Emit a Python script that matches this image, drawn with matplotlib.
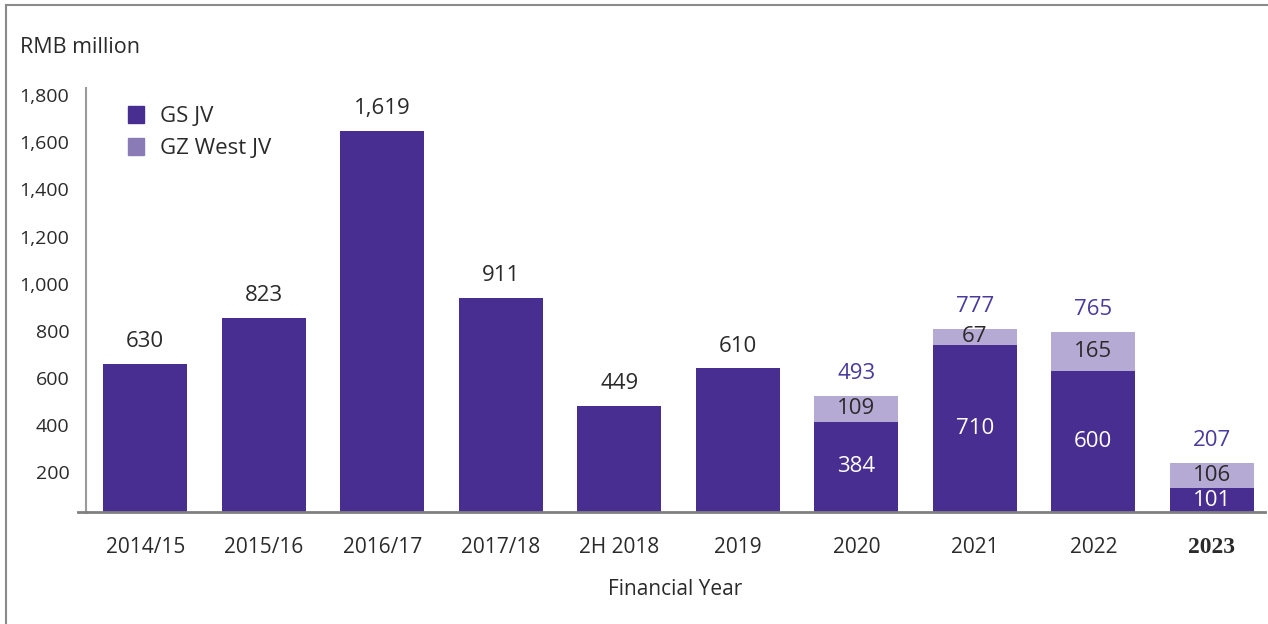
import numpy as np
import matplotlib
matplotlib.use("Agg")
import matplotlib.pyplot as plt
from matplotlib.lines import Line2D
from matplotlib.patches import Patch

years = ['2014/15', '2015/16', '2016/17', '2017/18', '2H 2018', '2019', '2020', '2021', '2022', '2023']
gs_jv = [630, 823, 1619, 911, 449, 610, 384, 710, 600, 101]
gz_west_jv = [0, 0, 0, 0, 0, 0, 109, 67, 165, 106]
totals = [630, 823, 1619, 911, 449, 610, 493, 777, 765, 207]
y_ticks = [200, 400, 600, 800, 1000, 1200, 1400, 1600, 1800]

DARK = '#482e91'
LIGHT = '#b5aad4'
LEGEND_LIGHT = '#8a7bb7'
TEXT = '#2a2a2a'

plt.rcParams['font.family'] = ['Open Sans', 'DejaVu Sans']

fig = plt.figure(figsize=(12.68, 6.24), dpi=100)
ax = fig.add_axes([0.0678, 0.1795, 0.930, 0.679])

x = np.arange(len(years))
w = 0.71
ax.bar(x, gs_jv, width=w, color=DARK, zorder=2)
ax.bar(x, gz_west_jv, width=w, bottom=gs_jv, color=LIGHT, zorder=2)

for i in range(len(years)):
    stacked = gz_west_jv[i] > 0
    ax.text(x[i], totals[i] + 95, f'{totals[i]:,}', ha='center', va='center',
            fontsize=16, color='#4b3a9c' if stacked else TEXT)
    if stacked:
        ax.text(x[i], gs_jv[i] / 2, f'{gs_jv[i]:,}', ha='center', va='center',
                fontsize=16, color='white')
        ax.text(x[i], gs_jv[i] + gz_west_jv[i] / 2, f'{gz_west_jv[i]:,}',
                ha='center', va='center', fontsize=16, color=TEXT)

ax.set_xlim(-0.5, 9.45)
ax.set_ylim(0, 1800)
ax.set_xticks(x)
ax.set_xticklabels(years, fontsize=15, color=TEXT)
last = ax.get_xticklabels()[-1]
last.set_fontfamily('Liberation Serif')
last.set_fontweight('bold')
last.set_fontsize(17)
ax.set_yticks(y_ticks)
ax.set_yticklabels([f'{v:,}' for v in y_ticks], fontsize=14, color=TEXT)
ax.tick_params(axis='both', length=0)
ax.tick_params(axis='x', pad=18)
ax.tick_params(axis='y', pad=12)
for lbl in ax.get_yticklabels():
    lbl.set_verticalalignment('top')

for s in ['top', 'right']:
    ax.spines[s].set_visible(False)
ax.spines['left'].set_color('#9a9a9a')
ax.spines['left'].set_linewidth(1.5)
ax.spines['bottom'].set_color('#808080')
ax.spines['bottom'].set_linewidth(2)
ax.spines['bottom'].set_zorder(3)
# baseline runs a little past the y axis
fig.add_artist(Line2D([78 / 1268, 0.0678], [0.1795, 0.1795], color='#808080', lw=2))

ax.set_xlabel('Financial Year', fontsize=15, color=TEXT, labelpad=15)
fig.text(0.016, 0.924, 'RMB million', fontsize=15.5, color=TEXT, va='center')

handles = [Patch(color=DARK), Patch(color=LEGEND_LIGHT)]
fig.legend(handles, ['GS JV', 'GZ West JV'], loc='upper left',
           bbox_to_anchor=(0.085, 0.862), frameon=False, fontsize=16,
           handlelength=0.75, handleheight=0.75, handletextpad=0.7,
           labelspacing=0.5, labelcolor=TEXT)

# outer frame on the left and top edges
fig.add_artist(Line2D([0.0047, 0.0047], [0, 0.992], color='#8a8a8a', lw=1.5))
fig.add_artist(Line2D([0.0047, 1], [0.992, 0.992], color='#8a8a8a', lw=1.5))

fig.savefig('out.png', dpi=100)
